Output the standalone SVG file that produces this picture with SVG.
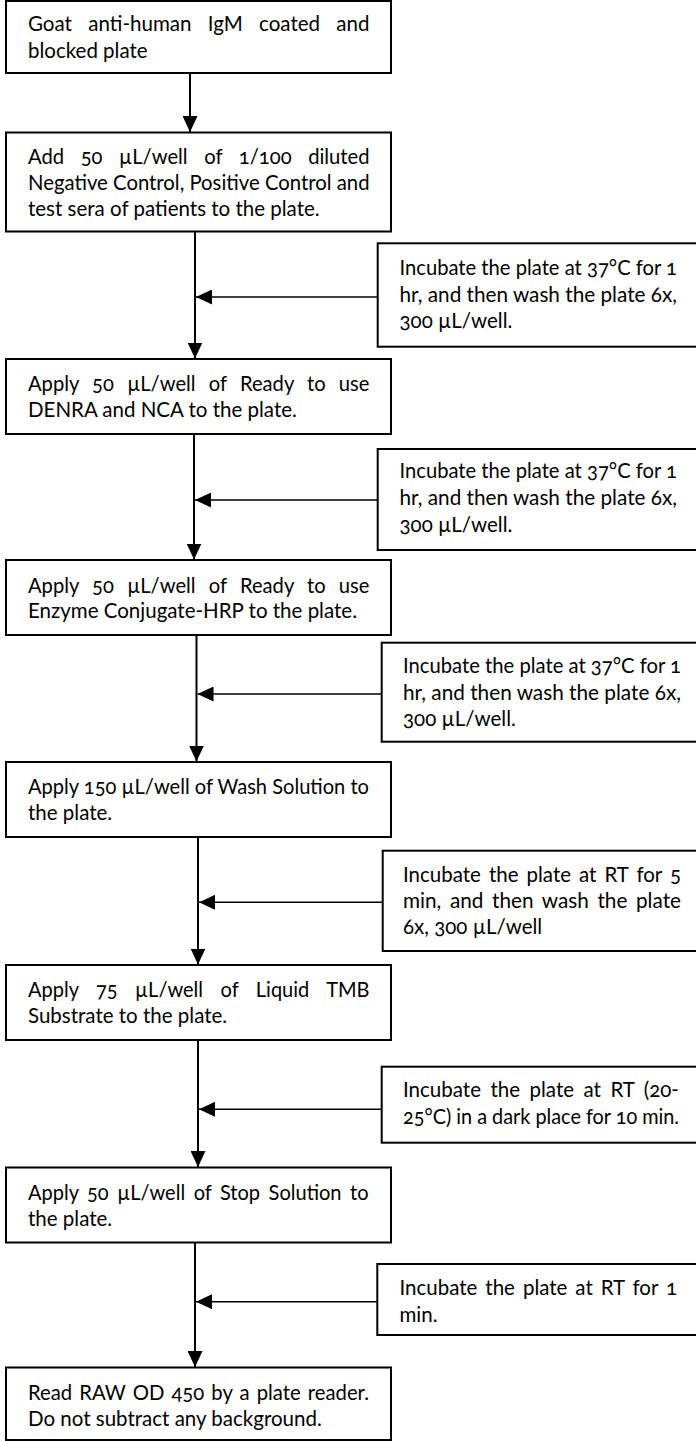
<svg xmlns="http://www.w3.org/2000/svg" width="696" height="1441" viewBox="0 0 696 1441">
<style>
.box{fill:#fff;stroke:#000;stroke-width:2}
.t{font-family:Lato,"Open Sans","Liberation Sans",sans-serif;font-size:20.5px;fill:#000;font-variant-numeric:oldstyle-nums}
.v{stroke:#000;stroke-width:2;fill:none}
.h{stroke:#000;stroke-width:1.6;fill:none}
</style>
<defs>
<marker id="ah" markerUnits="userSpaceOnUse" markerWidth="16" markerHeight="15" refX="16" refY="7.5" orient="auto">
<path d="M0,0 L16,7.5 L0,15 Z" fill="#000"/>
</marker>
</defs>
<rect width="696" height="1441" fill="#fff"/>
<g id="connectors">
<line class="v" x1="190" y1="73" x2="190" y2="132" marker-end="url(#ah)"/>
<line class="v" x1="195" y1="231.5" x2="195" y2="358.5" marker-end="url(#ah)"/>
<line class="v" x1="194" y1="434" x2="194" y2="559.5" marker-end="url(#ah)"/>
<line class="v" x1="196.5" y1="635" x2="196.5" y2="761.5" marker-end="url(#ah)"/>
<line class="v" x1="198" y1="837" x2="198" y2="964.5" marker-end="url(#ah)"/>
<line class="v" x1="198" y1="1040" x2="198" y2="1167" marker-end="url(#ah)"/>
<line class="v" x1="195" y1="1242.5" x2="195" y2="1367" marker-end="url(#ah)"/>
<line class="h" x1="377.7" y1="297" x2="196" y2="297" marker-end="url(#ah)"/>
<line class="h" x1="377.7" y1="500" x2="195" y2="500" marker-end="url(#ah)"/>
<line class="h" x1="381.7" y1="694" x2="197.5" y2="694" marker-end="url(#ah)"/>
<line class="h" x1="382.7" y1="902.3" x2="199" y2="902.3" marker-end="url(#ah)"/>
<line class="h" x1="381.7" y1="1109.3" x2="199" y2="1109.3" marker-end="url(#ah)"/>
<line class="h" x1="377.3" y1="1301.7" x2="196" y2="1301.7" marker-end="url(#ah)"/>
</g>
<g id="step1">
<rect class="box" x="6" y="1" width="385" height="72"/>
<text class="t" x="28" y="31" style="word-spacing:11.1px" textLength="341.5" lengthAdjust="spacingAndGlyphs">Goat anti-human IgM coated and</text>
<text class="t" x="28" y="57.5">blocked plate</text>
</g>
<g id="step2">
<rect class="box" x="6" y="132.5" width="385" height="99"/>
<text class="t" x="28" y="163.5" style="word-spacing:11.6px" textLength="341.5" lengthAdjust="spacingAndGlyphs">Add 50 µL/well of 1/100 diluted</text>
<text class="t" x="28" y="190" textLength="341.5" lengthAdjust="spacingAndGlyphs">Negative Control, Positive Control and</text>
<text class="t" x="28" y="216">test sera of patients to the plate.</text>
</g>
<g id="incubate1">
<rect class="box" x="377.7" y="243.3" width="330" height="103.4"/>
<text class="t" x="399.5" y="275" textLength="277.5" lengthAdjust="spacingAndGlyphs">Incubate the plate at 37°C for 1</text>
<text class="t" x="399.5" y="301.5" textLength="277.5" lengthAdjust="spacingAndGlyphs">hr, and then wash the plate 6x,</text>
<text class="t" x="399.5" y="327.5">300 µL/well.</text>
</g>
<g id="step3">
<rect class="box" x="6" y="359" width="385" height="75"/>
<text class="t" x="28" y="391" style="word-spacing:8.2px" textLength="341.5" lengthAdjust="spacingAndGlyphs">Apply 50 µL/well of Ready to use</text>
<text class="t" x="28" y="417">DENRA and NCA to the plate.</text>
</g>
<g id="incubate2">
<rect class="box" x="377.7" y="449" width="330" height="101"/>
<text class="t" x="399.5" y="478" textLength="277.5" lengthAdjust="spacingAndGlyphs">Incubate the plate at 37°C for 1</text>
<text class="t" x="399.5" y="505" textLength="277.5" lengthAdjust="spacingAndGlyphs">hr, and then wash the plate 6x,</text>
<text class="t" x="399.5" y="532">300 µL/well.</text>
</g>
<g id="step4">
<rect class="box" x="6" y="560" width="385" height="75"/>
<text class="t" x="28" y="592.5" style="word-spacing:8.2px" textLength="341.5" lengthAdjust="spacingAndGlyphs">Apply 50 µL/well of Ready to use</text>
<text class="t" x="28" y="618">Enzyme Conjugate-HRP to the plate.</text>
</g>
<g id="incubate3">
<rect class="box" x="381.7" y="642.7" width="330" height="99"/>
<text class="t" x="403" y="673" textLength="278" lengthAdjust="spacingAndGlyphs">Incubate the plate at 37°C for 1</text>
<text class="t" x="403" y="699.5" textLength="278" lengthAdjust="spacingAndGlyphs">hr, and then wash the plate 6x,</text>
<text class="t" x="403" y="725.5">300 µL/well.</text>
</g>
<g id="step5">
<rect class="box" x="6" y="762" width="385" height="75"/>
<text class="t" x="28" y="793.5" textLength="341" lengthAdjust="spacingAndGlyphs">Apply 150 µL/well of Wash Solution to</text>
<text class="t" x="28" y="820">the plate.</text>
</g>
<g id="incubate4">
<rect class="box" x="382.7" y="850.7" width="330" height="100.3"/>
<text class="t" x="403" y="881.7" style="word-spacing:2.8px" textLength="278" lengthAdjust="spacingAndGlyphs">Incubate the plate at RT for 5</text>
<text class="t" x="403" y="908" style="word-spacing:3.3px" textLength="278" lengthAdjust="spacingAndGlyphs">min, and then wash the plate</text>
<text class="t" x="403" y="934">6x, 300 µL/well</text>
</g>
<g id="step6">
<rect class="box" x="6" y="965" width="385" height="75"/>
<text class="t" x="28" y="996.5" style="word-spacing:12.7px" textLength="341.5" lengthAdjust="spacingAndGlyphs">Apply 75 µL/well of Liquid TMB</text>
<text class="t" x="28" y="1023">Substrate to the plate.</text>
</g>
<g id="incubate5">
<rect class="box" x="381.7" y="1066.7" width="330" height="76"/>
<text class="t" x="403" y="1097.3" style="word-spacing:4.2px" textLength="276" lengthAdjust="spacingAndGlyphs">Incubate the plate at RT (20-</text>
<text class="t" x="403" y="1124" textLength="276" lengthAdjust="spacingAndGlyphs">25°C) in a dark place for 10 min.</text>
</g>
<g id="step7">
<rect class="box" x="6" y="1167.5" width="385" height="75"/>
<text class="t" x="28" y="1199.5" style="word-spacing:3.5px" textLength="340.5" lengthAdjust="spacingAndGlyphs">Apply 50 µL/well of Stop Solution to</text>
<text class="t" x="28" y="1226">the plate.</text>
</g>
<g id="incubate6">
<rect class="box" x="377.3" y="1264" width="330" height="71"/>
<text class="t" x="399.5" y="1295" style="word-spacing:2.7px" textLength="277.5" lengthAdjust="spacingAndGlyphs">Incubate the plate at RT for 1</text>
<text class="t" x="399.5" y="1321.7">min.</text>
</g>
<g id="step8">
<rect class="box" x="6" y="1367.5" width="385" height="72.5"/>
<text class="t" x="28" y="1400" style="word-spacing:1.9px" textLength="341" lengthAdjust="spacingAndGlyphs">Read RAW OD 450 by a plate reader.</text>
<text class="t" x="28" y="1426">Do not subtract any background.</text>
</g>
</svg>
